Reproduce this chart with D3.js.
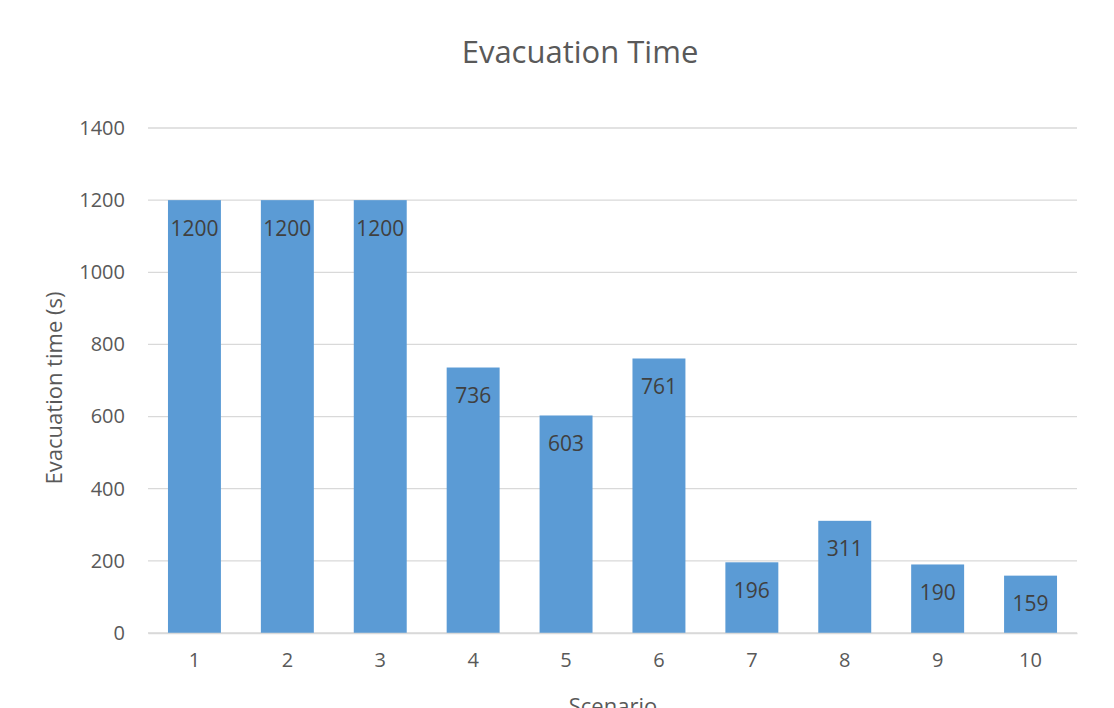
<!DOCTYPE html>
<html>
<head>
<meta charset="utf-8">
<script src="https://cdn.jsdelivr.net/npm/d3@7"></script>
<style>
  body { margin: 0; background: #fff; }
  svg { font-family: "Open Sans", sans-serif; }
</style>
</head>
<body>
<svg id="chart" width="1114" height="708"></svg>
<script>
var scenarios = ["1", "2", "3", "4", "5", "6", "7", "8", "9", "10"];
var evacTimes = [1200, 1200, 1200, 736, 603, 761, 196, 311, 190, 159];
var yTicks = [0, 200, 400, 600, 800, 1000, 1200, 1400];

var svg = d3.select("#chart"),
    plotLeft = 148,
    plotRight = 1077,
    plotTop = 128,
    plotBottom = 633;

var xScale = d3.scaleBand().domain(scenarios).range([plotLeft, plotRight]).paddingInner(0.43).paddingOuter(0.215),
    yScale = d3.scaleLinear().domain([0, 1400]).range([plotBottom, plotTop]);

// gridlines
svg.append("g")
  .selectAll("line")
  .data(yTicks)
  .enter()
  .append("line")
  .attr("x1", plotLeft)
  .attr("x2", plotRight)
  .attr("y1", function (d) { return yScale(d); })
  .attr("y2", function (d) { return yScale(d); })
  .style("stroke", "#d9d9d9")
  .style("stroke-width", 1.3);

// y axis labels
var yAxis = svg.append("g")
  .attr("transform", "translate(" + plotLeft + ",0)")
  .call(d3.axisLeft(yScale).tickValues(yTicks).tickFormat(d3.format("d")).tickSize(0).tickPadding(23));
yAxis.select(".domain").remove();
yAxis.selectAll("text")
  .style("font-family", "Open Sans")
  .style("font-size", "20px")
  .style("fill", "#595959");

// bars
svg.append("g")
  .selectAll("rect")
  .data(evacTimes)
  .enter()
  .append("rect")
  .attr("x", function (d, i) { return xScale(scenarios[i]); })
  .attr("y", function (d) { return yScale(d); })
  .attr("width", xScale.bandwidth())
  .attr("height", function (d) { return plotBottom - yScale(d); })
  .style("fill", "#5b9bd5");

// data labels
svg.append("g")
  .selectAll("text")
  .data(evacTimes)
  .enter()
  .append("text")
  .attr("x", function (d, i) { return xScale(scenarios[i]) + xScale.bandwidth() / 2; })
  .attr("y", function (d) { return yScale(d) + 35.5; })
  .attr("text-anchor", "middle")
  .style("font-size", "21px")
  .style("fill", "#404040")
  .text(function (d) { return d; });

// x axis
var xAxis = svg.append("g")
  .attr("transform", "translate(0," + plotBottom + ")")
  .call(d3.axisBottom(xScale).tickSize(0).tickPadding(20));
xAxis.select(".domain")
  .style("stroke", "#d9d9d9")
  .style("stroke-width", 1.3);
xAxis.selectAll("text")
  .style("font-family", "Open Sans")
  .style("font-size", "20px")
  .style("fill", "#595959");

// title
svg.append("text")
  .attr("x", 580)
  .attr("y", 63)
  .attr("text-anchor", "middle")
  .style("font-size", "31px")
  .style("fill", "#595959")
  .text("Evacuation Time");

// axis titles
svg.append("text")
  .attr("x", 613)
  .attr("y", 714)
  .attr("text-anchor", "middle")
  .style("font-size", "22px")
  .style("fill", "#595959")
  .text("Scenario");

svg.append("text")
  .attr("text-anchor", "middle")
  .attr("transform", "translate(62,388)rotate(-90)")
  .style("font-size", "22px")
  .style("fill", "#595959")
  .text("Evacuation time (s)");
</script>
</body>
</html>
